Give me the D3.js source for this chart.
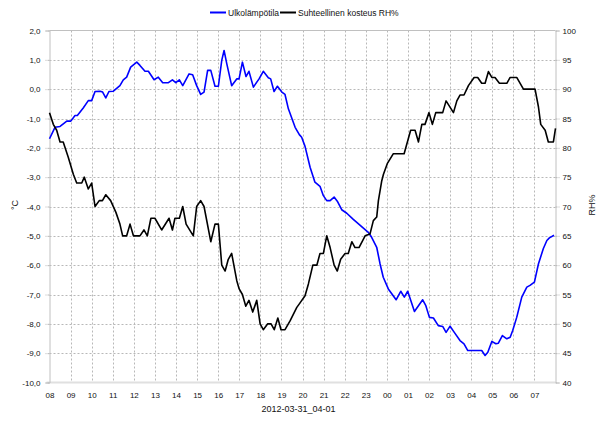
<!DOCTYPE html>
<html><head><meta charset="utf-8">
<script src="https://cdn.jsdelivr.net/npm/d3@7"></script>
<style>
html,body{margin:0;padding:0;background:#fff;}
svg{display:block;font-family:"Liberation Sans",Arial,sans-serif;}
</style></head>
<body><svg id="c" width="600" height="424"></svg>
<script>
// Hours since 2012-03-31 08:00
const tempHours = [0,0.26,0.5,0.82,1.01,1.21,1.32,1.6,1.84,2.0,2.16,2.4,2.52,2.67,2.82,3.03,3.34,3.5,3.66,3.85,4.14,4.29,4.53,4.69,4.96,5.16,5.37,5.64,5.83,5.99,6.16,6.32,6.62,6.79,6.98,7.17,7.33,7.5,7.65,7.85,8.01,8.17,8.28,8.41,8.64,8.88,8.99,9.15,9.32,9.46,9.67,9.94,10.14,10.38,10.49,10.65,10.81,11.02,11.17,11.33,11.65,11.85,11.96,12.12,12.36,12.59,12.83,12.99,13.15,13.31,13.5,13.65,13.86,14.1,14.41,15.12,15.28,15.52,15.68,15.83,16.07,16.44,16.66,16.83,16.99,17.31,17.7,17.85,18.02,18.21,18.44,18.65,18.81,19.0,19.2,19.47,19.66,19.84,20.5,20.66,20.79,20.98,21.17,21.29,21.48,21.69,21.85,21.97,22.16,22.4,22.64,22.79,23.0,23.19,23.42,23.59,23.71,23.93];
const tempValues = [-1.69,-1.3,-1.27,-1.09,-1.09,-0.9,-0.9,-0.64,-0.39,-0.39,-0.08,-0.07,-0.1,-0.3,-0.08,-0.07,0.12,0.32,0.41,0.75,0.92,0.81,0.61,0.61,0.32,0.41,0.22,0.22,0.32,0.22,0.32,0.12,0.52,0.49,0.12,-0.18,-0.1,0.64,0.64,0.1,0.1,0.98,1.32,0.86,0.12,0.35,0.35,0.92,0.43,0.61,0.07,0.35,0.61,0.39,0.35,-0.08,0.1,-0.1,-0.18,-0.67,-1.3,-1.55,-1.64,-1.95,-2.66,-3.17,-3.31,-3.63,-3.8,-3.8,-3.68,-3.82,-4.11,-4.23,-4.44,-4.88,-5.05,-5.39,-5.96,-6.41,-6.81,-7.18,-6.89,-7.09,-6.89,-7.58,-7.18,-7.38,-7.78,-7.8,-8.06,-8.09,-8.29,-8.08,-8.29,-8.57,-8.68,-8.91,-8.91,-9.08,-8.97,-8.6,-8.68,-8.66,-8.4,-8.51,-8.46,-8.23,-7.78,-7.09,-6.75,-6.69,-6.58,-5.96,-5.44,-5.16,-5.07,-4.98];

const rhHours = [0,0.18,0.34,0.5,0.65,0.89,1.13,1.29,1.53,1.65,1.84,2.0,2.16,2.36,2.51,2.67,2.9,3.15,3.34,3.47,3.66,3.82,3.98,4.29,4.48,4.64,4.81,5.0,5.32,5.67,5.83,5.95,6.16,6.32,6.48,6.82,6.98,7.17,7.33,7.65,7.85,8.01,8.17,8.33,8.48,8.64,8.88,8.99,9.15,9.31,9.46,9.64,9.83,9.99,10.14,10.35,10.51,10.66,10.83,10.98,11.17,11.41,11.73,11.85,12.12,12.28,12.49,12.68,12.83,12.99,13.15,13.31,13.5,13.65,13.81,14.02,14.17,14.34,14.49,14.68,14.97,15.2,15.36,15.52,15.6,15.76,15.84,16.02,16.31,16.82,17.13,17.34,17.5,17.66,17.81,18.0,18.16,18.32,18.65,18.81,19.16,19.32,19.47,19.66,19.87,20.14,20.31,20.5,20.66,20.82,20.98,21.13,21.34,21.69,21.85,22.16,22.48,23.03,23.19,23.3,23.51,23.66,23.9,24.0];
const rhValues = [86,84,83,81,81,78.4,75.5,74,74,75,73,74,70,71,71,72,71,69,67,65,65,67,65,65,66,65,68,68,66,68,66,68,68,70,67,65,70,71,70,64,67,67,60,59,61,62,57.4,56,55,53,54,52,54,50,49,50,50,49,51,49,49,50.5,52.8,53.4,54.8,56.8,60,60,62,62,65,63,60,59,61,62,62,64,63,63,65,65.3,67.6,68.2,71,74.4,75.5,77.3,79,79,83,83,81,84,84,86,84,86,86,88,86,88,89,89,90.6,92,92,91,91,93,92,92,91,91,92,92,90,90,87,84,83,81,81,83.3];

const hourLabels = ["08","09","10","11","12","13","14","15","16","17","18","19","20","21","22","23","00","01","02","03","04","05","06","07"];
const tempTicks = [2,1,0,-1,-2,-3,-4,-5,-6,-7,-8,-9,-10];
const rhTicks = [100,95,90,85,80,75,70,65,60,55,50,45,40];
const legendLabels = ["Ulkolämpötila","Suhteellinen kosteus RH%"];
const dateLabel = "2012-03-31_04-01";

const start = new Date(2012,2,31,8,0);
const toDate = h => new Date(start.getTime() + h*3600000);

const L=49.5, R=555.5, T=30.5, B=382.5;
const svg = d3.select("#c");
const x = d3.scaleTime().domain([start, toDate(24)]).range([L,R]);
const yT = d3.scaleLinear().domain([-10,2]).range([B,T]);
const yR = d3.scaleLinear().domain([40,100]).range([B,T]);

const grid = "#b8b8b8";
const axisCol = "#c0c0c0";
// horizontal grid
svg.append("g").selectAll("line").data(tempTicks.filter(v=>v>-10&&v<2)).join("line")
  .attr("x1",L).attr("x2",R).attr("y1",d=>Math.round(yT(d))+0.5).attr("y2",d=>Math.round(yT(d))+0.5)
  .attr("stroke",grid).attr("stroke-dasharray","2,2").attr("stroke-width",1);
// vertical grid
svg.append("g").selectAll("line").data(d3.range(1,24)).join("line")
  .attr("x1",d=>Math.round(x(toDate(d)))+0.5).attr("x2",d=>Math.round(x(toDate(d)))+0.5)
  .attr("y1",T).attr("y2",B)
  .attr("stroke",grid).attr("stroke-dasharray","2,2").attr("stroke-width",1);

// frame
svg.append("line").attr("x1",L).attr("x2",R).attr("y1",T).attr("y2",T).attr("stroke",axisCol);
svg.append("line").attr("x1",L-3).attr("x2",R).attr("y1",B).attr("y2",B).attr("stroke","#e0e0e0").attr("stroke-width",2);

// left axis
const la = svg.append("g").attr("transform",`translate(${L},0)`)
  .call(d3.axisLeft(yT).tickValues(tempTicks).tickSize(4).tickPadding(5)
    .tickFormat(d=>d3.format(".1f")(d).replace(".",",").replace("−","-")));
la.select(".domain").attr("stroke",axisCol);
la.selectAll(".tick line").attr("stroke",grid).attr("stroke-dasharray","2,1");
la.selectAll("text").attr("font-size",8).attr("fill","#111").attr("font-family","Liberation Sans, Arial, sans-serif");

// right axis
const ra = svg.append("g").attr("transform",`translate(${R},0)`)
  .call(d3.axisRight(yR).tickValues(rhTicks).tickSize(4).tickPadding(3));
ra.select(".domain").attr("stroke",axisCol);
ra.selectAll(".tick line").attr("stroke",grid).attr("stroke-dasharray","2,1");
ra.selectAll("text").attr("font-size",8).attr("fill","#111").attr("font-family","Liberation Sans, Arial, sans-serif");

// bottom axis
const ba = svg.append("g").attr("transform",`translate(0,${B})`)
  .call(d3.axisBottom(x).tickValues(d3.range(0,24).map(toDate)).tickSize(0).tickPadding(10)
    .tickFormat((d,i)=>hourLabels[i]));
ba.select(".domain").remove();
ba.selectAll("text").attr("font-size",8).attr("fill","#111").attr("font-family","Liberation Sans, Arial, sans-serif");

svg.append("text").attr("x",(L+R)/2-4).attr("y",412).attr("text-anchor","middle")
  .attr("font-size",9).attr("fill","#111").text(dateLabel);

// axis titles
svg.append("text").attr("transform","translate(18,205) rotate(-90)").attr("text-anchor","middle")
  .attr("font-size",9).attr("fill","#111").text("°C");
svg.append("text").attr("transform","translate(595,205) rotate(-90)").attr("text-anchor","middle")
  .attr("font-size",9).attr("fill","#111").text("RH%");

// lines
const tData = tempHours.map((h,i)=>({t:toDate(h),v:tempValues[i]}));
const rData = rhHours.map((h,i)=>({t:toDate(h),v:rhValues[i]}));
svg.append("path").datum(tData).attr("fill","none").attr("stroke","#0000ff").attr("stroke-width",1.6)
  .attr("stroke-linejoin","round")
  .attr("d",d3.line().x(d=>x(d.t)).y(d=>yT(d.v)));
svg.append("path").datum(rData).attr("fill","none").attr("stroke","#000").attr("stroke-width",1.6)
  .attr("stroke-linejoin","round")
  .attr("d",d3.line().x(d=>x(d.t)).y(d=>yR(d.v)));

// legend
const leg = svg.append("g").attr("font-size",8.5).attr("fill","#111");
const legColors = ["#0000ff","#000"];
const legX = [210,280];
legendLabels.forEach((lab,i)=>{
  leg.append("line").attr("x1",legX[i]).attr("x2",legX[i]+16).attr("y1",12.5).attr("y2",12.5)
    .attr("stroke",legColors[i]).attr("stroke-width",2);
  leg.append("text").attr("x",legX[i]+18).attr("y",15.5).text(lab);
});
</script></body></html>
